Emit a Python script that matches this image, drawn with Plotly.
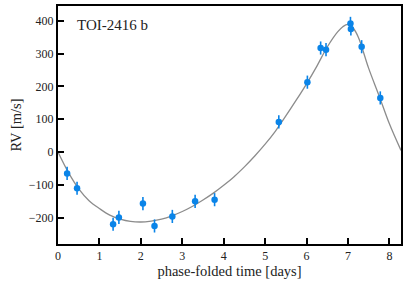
import plotly.graph_objects as go

# RV data (phase-folded)
phase_days = [0.22, 0.46, 1.33, 1.47, 2.05, 2.33, 2.76, 3.31, 3.78, 5.33, 6.02, 6.34, 6.47, 7.06, 7.07, 7.33, 7.78]
rv_ms = [-65, -110, -220, -199, -157, -225, -196, -150, -145, 92, 213, 317, 312, 392, 375, 321, 165]
rv_err = [20, 20, 20, 20, 20, 20, 20, 20, 20, 20, 20, 20, 20, 20, 20, 20, 20]

# Model curve
model_t = [0, 0.25, 0.5, 0.75, 1.0, 1.25, 1.5, 1.75, 2.0, 2.25, 2.5, 2.75, 3.0, 3.25, 3.5, 3.75,
           4.0, 4.25, 4.5, 4.75, 5.0, 5.25, 5.5, 5.75, 6.0, 6.25, 6.5, 6.75, 6.875, 7.0, 7.125,
           7.25, 7.5, 7.75, 8.0, 8.28]
model_rv = [0, -62, -112, -148, -172, -192, -204, -211, -213, -210, -204, -194, -181, -165, -146, -125,
            -101, -75, -45, -12, 24, 64, 110, 158, 208, 262, 320, 366, 382, 389, 378,
            350, 255, 172, 86, 5]

x_ticks = [0, 1, 2, 3, 4, 5, 6, 7, 8]
y_ticks = [-200, -100, 0, 100, 200, 300, 400]

font_family = "Liberation Serif"

fig = go.Figure()
fig.add_trace(go.Scatter(x=model_t, y=model_rv, mode="lines", line=dict(color="#8c8c8c", width=1.3, shape="spline"),
                         showlegend=False, hoverinfo="skip"))
fig.add_trace(go.Scatter(x=phase_days, y=rv_ms, mode="markers",
                         marker=dict(color="#0a84e8", size=6.5),
                         error_y=dict(type="data", array=rv_err, color="#0a84e8", thickness=1.6, width=0),
                         showlegend=False))

axis_common = dict(showline=True, linecolor="black", linewidth=2, mirror=True, ticks="inside",
                   ticklen=6, tickwidth=1.6, tickcolor="black", showgrid=False, zeroline=False,
                   tickfont=dict(family=font_family, size=12, color="#222"))

fig.update_layout(
    width=407, height=288,
    margin=dict(l=58, r=6, t=6, b=44, autoexpand=False),
    plot_bgcolor="white", paper_bgcolor="white",
    font=dict(family=font_family, color="#222"),
    xaxis=dict(range=[0, 8.28], tickvals=x_ticks, automargin=False, **axis_common,
               title=dict(text="phase-folded time [days]", font=dict(family=font_family, size=14.5), standoff=2)),
    yaxis=dict(range=[-280, 445], tickvals=y_ticks, automargin=False, **axis_common,
               tickformat="d",
               title=dict(text="RV [m/s]", font=dict(family=font_family, size=14.5), standoff=4)),
    annotations=[dict(text="TOI-2416 b", xref="paper", yref="paper", x=0.05, y=0.92,
                      xanchor="left", yanchor="middle", showarrow=False,
                      font=dict(family=font_family, size=15, color="#222"))],
)

fig.write_html("out.html", config={"displayModeBar": False},
               post_script="document.body.style.margin='0';document.body.style.overflow='hidden';")
